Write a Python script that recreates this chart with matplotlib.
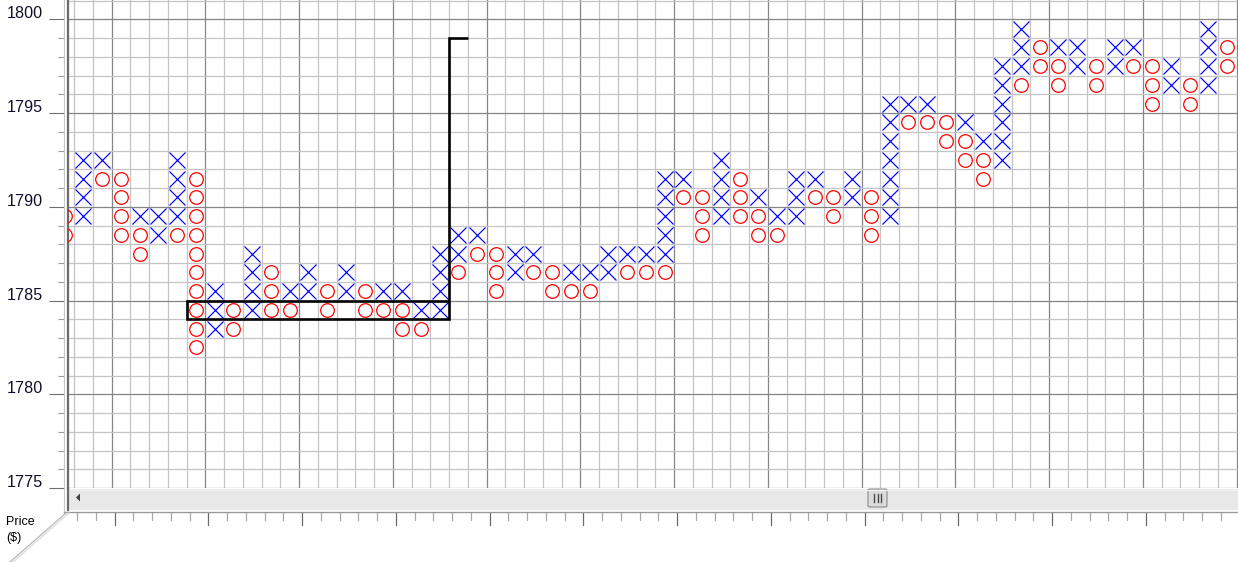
import numpy as np
import matplotlib
matplotlib.use("Agg")
import matplotlib.pyplot as plt
from matplotlib.lines import Line2D
from matplotlib.patches import Rectangle, Polygon, FancyBboxPatch
import matplotlib.transforms as mtransforms

# ---------------- data (box prices per column) ----------------
columns = list(range(-1, 62))
x_low  = [None,1789,1792,None,1789,1788,1789,None,1783,None,1784,None,1785,1785,None,1785,None,1785,1785,1784,1784,
          1787,1788,None,1786,1787,None,1786,1786,1786,1787,1787,1787,1791,None,1789,None,1790,1789,1789,1791,None,
          1790,None,1789,1795,1795,None,1794,1793,1792,1797,None,1798,1797,None,1797,1798,None,1796,None,1796,None]
x_high = [None,1792,1792,None,1789,1789,1792,None,1785,None,1787,None,1785,1786,None,1786,None,1785,1785,1784,1787,
          1788,1788,None,1787,1787,None,1786,1786,1787,1787,1787,1791,1791,None,1792,None,1790,1789,1791,1791,None,
          1791,None,1795,1795,1795,None,1794,1793,1797,1799,None,1798,1798,None,1798,1798,None,1797,None,1799,None]
o_low  = [1788,None,1791,1788,1787,None,1788,1782,None,1783,None,1784,1784,None,1784,None,1784,1784,1783,1783,None,
          1786,1787,1785,None,1786,1785,1785,1785,None,1786,1786,1786,1790,1788,None,1789,1788,1788,None,1790,1789,
          None,1788,None,1794,1794,1793,1792,1791,None,1796,1797,1796,None,1796,None,1797,1795,None,1795,None,1797]
o_high = [1789,None,1791,1791,1788,None,1788,1791,None,1784,None,1786,1784,None,1785,None,1785,1784,1784,1783,None,
          1786,1787,1787,None,1786,1786,1785,1785,None,1786,1786,1786,1790,1790,None,1791,1789,1788,None,1790,1790,
          None,1790,None,1794,1794,1794,1793,1792,None,1796,1798,1797,None,1797,None,1797,1797,None,1796,None,1798]

# horizontal count and target
count_cols = [6, 20]
count_prices = [1784, 1785]
target_price = 1799
target_end_col = 21

y_major_labels = [1775, 1780, 1785, 1790, 1795, 1800]

# ---------------- figure ----------------
W, H = 1238, 562
fig = plt.figure(figsize=(W / 100, H / 100), dpi=100)
fig.patch.set_facecolor("white")

def fx(x):
    return x / W

def fy(y):
    return 1 - y / H

ax = fig.add_axes([fx(68), fy(488), fx(1238) - fx(68), fy(0) - fy(488)])
ax.set_xlim(-0.32, 62.08)
ax.set_ylim(1775, 1801.03)

ax.set_xticks(np.arange(2, 63, 5))
ax.set_xticks(np.arange(0, 63, 1), minor=True)
ax.set_yticks(np.arange(1775, 1801, 5))
ax.set_yticks(np.arange(1775, 1802, 1), minor=True)
ax.grid(which="minor", color="#c4c4c4", lw=0.9)
ax.grid(which="major", color="#858585", lw=0.9)
ax.tick_params(which="both", length=0, labelbottom=False, labelleft=False)
ax.set_axisbelow(True)
for s in ["top", "right", "bottom"]:
    ax.spines[s].set_visible(False)
ax.spines["left"].set_color("#6a6a6a")
ax.spines["left"].set_linewidth(1.6)

# symbols
xs_x, xs_y, os_x, os_y = [], [], [], []
for c, lo, hi in zip(columns, x_low, x_high):
    if lo is not None:
        for p in range(lo, hi + 1):
            xs_x.append(c + 0.5)
            xs_y.append(p + 0.5)
for c, lo, hi in zip(columns, o_low, o_high):
    if lo is not None:
        for p in range(lo, hi + 1):
            os_x.append(c + 0.5)
            os_y.append(p + 0.5)

ax.plot(xs_x, xs_y, linestyle="none", marker="x", ms=11.2, mew=0.85, color="#0000ff", zorder=3)
ax.plot(os_x, os_y, linestyle="none", marker="o", ms=9.8, mew=0.9, mfc="none", mec="#ff0000", zorder=3)

# count box and target line
path_x = [target_end_col, count_cols[1], count_cols[1], count_cols[0], count_cols[0], count_cols[1]]
path_y = [target_price, target_price, count_prices[0], count_prices[0], count_prices[1], count_prices[1]]
ax.plot(path_x, path_y, color="black", lw=1.9, solid_joinstyle="miter", solid_capstyle="butt", zorder=4)

# ---------------- left axis ticks/labels ----------------
axl = fig.add_axes([fx(63.5), fy(488), fx(1) , fy(0) - fy(488)])
axl.set_ylim(1775, 1801.03)
axl.set_xlim(0, 1)
axl.patch.set_visible(False)
for s in ["top", "right", "bottom"]:
    axl.spines[s].set_visible(False)
axl.spines["left"].set_color("#c8c8c8")
axl.spines["left"].set_linewidth(0.8)
axl.set_xticks([])
axl.set_yticks(np.arange(1775, 1801, 5))
axl.set_yticks(np.arange(1775, 1801, 1), minor=True)
axl.tick_params(axis="y", which="major", direction="out", length=10.8, width=0.8, color="#6e6e6e", labelleft=False)
axl.tick_params(axis="y", which="minor", direction="out", length=4.3, width=0.8, color="#9a9a9a", labelleft=False)

lab_tr = mtransforms.blended_transform_factory(fig.transFigure, ax.transData) + \
    mtransforms.ScaledTranslation(0, 1.0 / 100, fig.dpi_scale_trans)
for v in y_major_labels:
    fig.text(fx(43), v, str(v), transform=lab_tr, ha="right", va="baseline",
             fontsize=11.6, family="Liberation Sans", color="#10102a")

# ---------------- scrollbar and frame ----------------
fig.add_artist(Rectangle((fx(69), fy(510)), fx(1238) - fx(69), fy(489) - fy(510),
                         transform=fig.transFigure, fc="#e8e8e8", ec="none"))
fig.add_artist(Line2D([fx(69), fx(1238)], [fy(489.5), fy(489.5)], color="#f2f2f2", lw=0.8))
fig.add_artist(Line2D([fx(68), fx(68)], [fy(488), fy(510)], color="#6a6a6a", lw=1.6))
fig.add_artist(Line2D([fx(63.5), fx(63.5)], [fy(488), fy(513)], color="#c8c8c8", lw=0.8))
fig.add_artist(Line2D([fx(63.5), fx(1238)], [fy(511.5), fy(511.5)], color="#9a9a9a", lw=1.0))
fig.add_artist(Polygon([[fx(76), fy(497.5)], [fx(80), fy(493.5)], [fx(80), fy(501.5)]],
                       closed=True, transform=fig.transFigure, fc="#404040", ec="none"))
fig.add_artist(FancyBboxPatch((fx(868), fy(507)), fx(887) - fx(868), fy(489) - fy(507),
                              boxstyle="round,pad=0,rounding_size=0.002", transform=fig.transFigure,
                              fc="#dcdcdc", ec="#8c8c8c", lw=0.8))
for gx in [874, 877.5, 881]:
    fig.add_artist(Line2D([fx(gx), fx(gx)], [fy(494), fy(502)], color="#4a4a4a", lw=1.0))

# bottom (date) ticks
btr = mtransforms.blended_transform_factory(ax.transData, fig.transFigure)
for k in range(0, 63):
    xk = k + 0.16
    if (k - 2) % 5 == 0:
        ax.add_line(Line2D([xk, xk], [fy(513), fy(525)], transform=btr, color="#6a6a6a", lw=0.9, clip_on=False))
    else:
        ax.add_line(Line2D([xk, xk], [fy(513), fy(520)], transform=btr, color="#a8a8a8", lw=0.9, clip_on=False))

# diagonal corner lines
fig.add_artist(Line2D([fx(66), fx(10)], [fy(513), fy(562)], color="#b8b8b8", lw=0.9))
fig.add_artist(Line2D([fx(69), fx(13)], [fy(513), fy(562)], color="#dcdcdc", lw=0.9))

fig.text(fx(6), fy(516), "Price\n($)", ha="left", va="top", fontsize=9, family="Liberation Sans",
         color="black", linespacing=1.45, zorder=5)

fig.savefig("out.png", dpi=100)
